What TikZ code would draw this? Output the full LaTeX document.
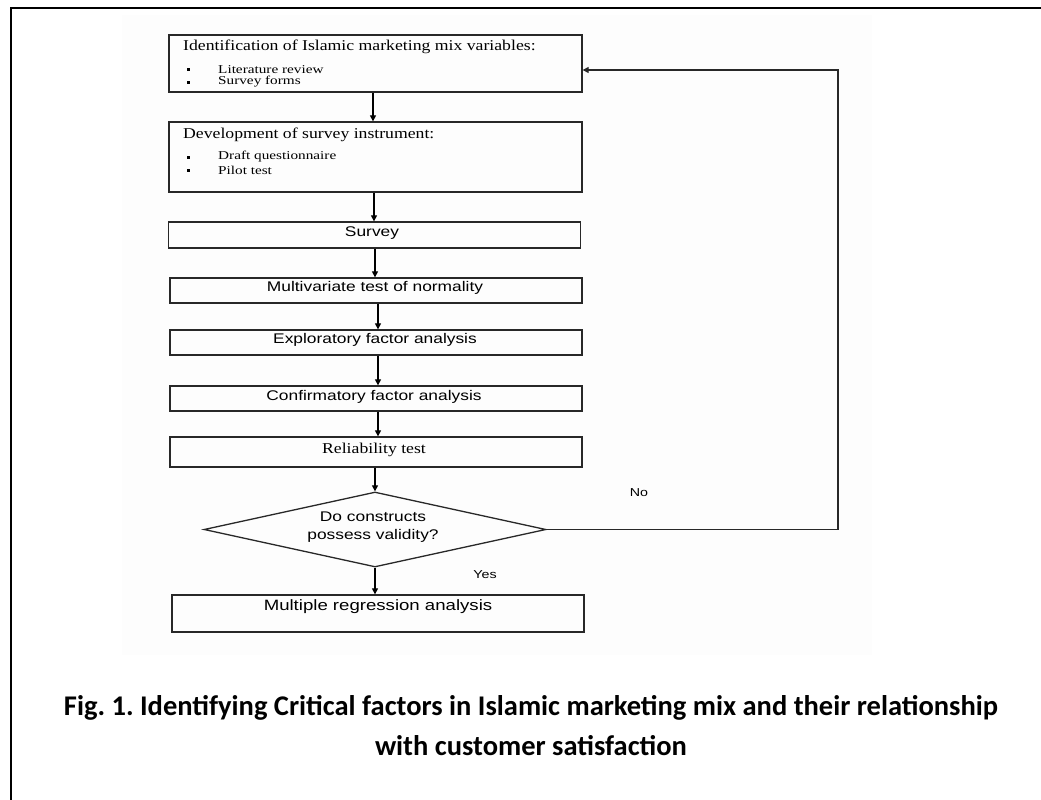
\documentclass[tikz,border=0pt]{standalone}
\usepackage{fontspec}
\setmainfont{Liberation Serif}
\newfontfamily\arialw{Liberation Sans}[FakeStretch=1.24]
\newfontfamily\timesw{Liberation Serif}[FakeStretch=1.18]
\newfontfamily\timesi{Liberation Serif}[FakeStretch=1.27]
\newfontfamily\calibrif{Carlito}
\usetikzlibrary{shapes.geometric,arrows.meta}
\definecolor{pastebg}{RGB}{253,253,253}
\definecolor{boxline}{RGB}{40,40,40}
\tikzset{
  box/.style={draw=boxline, line width=1.3pt, rectangle, inner sep=0pt},
  arr/.style={draw=black, line width=1.2pt, -{Triangle[length=6pt,width=6pt]}},
  link/.style={draw=boxline, line width=1.2pt},
  sanslbl/.style={font=\arialw\fontsize{14}{17}\selectfont, inner sep=0pt},
  seriflbl/.style={font=\timesw\fontsize{15}{17}\selectfont, inner sep=0pt},
  itemlbl/.style={font=\timesi\fontsize{12}{13}\selectfont, inner sep=0pt, anchor=west},
  smalllbl/.style={font=\arialw\fontsize{11.5}{13}\selectfont, inner sep=0pt},
  bullet/.style={fill=black, minimum size=3pt, inner sep=0pt, rectangle},
  caption/.style={font=\calibrif\bfseries\fontsize{28.5}{34}\selectfont, inner sep=0pt, anchor=base},
}
\begin{document}
\frenchspacing
\begin{tikzpicture}[x=1pt,y=-1pt]
\useasboundingbox (0,0) rectangle (1041,800);
\fill[white] (0,0) rectangle (1041,800);
\fill[pastebg] (122,15) rectangle (872,655);
% outer frame (left and top only visible)
\draw[line width=2pt] (11,800) -- (11,8.3) -- (1041,8.3);

% boxes
\node[box, minimum width=413pt, minimum height=57pt] (b1) at (375.5,63.5) {};
\node[box, minimum width=413pt, minimum height=70pt] (b2) at (375.5,157) {};
\node[box, minimum width=412pt, minimum height=26pt] (b3) at (374.5,235) {};
\node[box, minimum width=412pt, minimum height=25pt] (b4) at (376,290.5) {};
\node[box, minimum width=412pt, minimum height=25pt] (b5) at (376,342.5) {};
\node[box, minimum width=412pt, minimum height=25pt] (b6) at (376,398.5) {};
\node[box, minimum width=412pt, minimum height=30pt] (b7) at (376,452) {};
\node[draw=boxline, line width=1.3pt, diamond, minimum width=342pt, minimum height=75pt, inner sep=0pt] (d) at (375,529.5) {};
\node[box, minimum width=412pt, minimum height=37pt] (b8) at (378,613.5) {};

% texts
\node[seriflbl, anchor=west] (t1) at (183,47) {Identification of Islamic marketing mix variables:};
\node[bullet] (t1a) at (188,70) {};
\node[bullet] (t1b) at (188,82) {};
\node[itemlbl] (t1c) at (218,70) {Literature review};
\node[itemlbl] (t1d) at (218,82) {Survey forms};
\node[seriflbl, anchor=west] (t2) at (183,135) {Development of survey instrument:};
\node[bullet] (t2a) at (188,157) {};
\node[bullet] (t2b) at (188,170) {};
\node[itemlbl] (t2c) at (218,157) {Draft questionnaire};
\node[itemlbl] (t2d) at (218,170) {Pilot test};
\node[sanslbl] (t3) at (372,233) {Survey};
\node[sanslbl] (t4) at (375,288) {Multivariate test of normality};
\node[sanslbl] (t5) at (375,340) {Exploratory factor analysis};
\node[sanslbl] (t6) at (374,397) {Confirmatory factor analysis};
\node[seriflbl] (t7) at (374,450) {Reliability test};
\node[sanslbl, align=center] (t8) at (373,527.5) {Do constructs\\[1pt]possess validity?};
\node[sanslbl, font=\arialw\fontsize{15}{17}\selectfont] (t9) at (378,607) {Multiple regression analysis};
\node[smalllbl] (no) at (639,493) {No};
\node[smalllbl] (yes) at (485,575) {Yes};

% connectors
\draw[arr] (b1.south -| 373,0) -- (b2.north -| 373,0);
\draw[arr] (b2.south -| 374,0) -- (b3.north -| 374,0);
\draw[arr] (b3.south -| 375,0) -- (b4.north -| 375,0);
\draw[arr] (b4.south -| 378,0) -- (b5.north -| 378,0);
\draw[arr] (b5.south -| 378,0) -- (b6.north -| 378,0);
\draw[arr] (b6.south -| 378,0) -- (b7.north -| 378,0);
\draw[arr] (b7.south -| d.north) -- (d.north);
\draw[arr] (d.south) -- (b8.north -| d.south);
\coordinate (loopA) at (838,529.5);
\coordinate (loopB) at (838,70);
\draw[link, -{Triangle[length=6pt,width=6pt]}] (d.east) -- (loopA) -- (loopB) -- (b1.east |- loopB);

% caption
\node[caption] (cap1) at (531,715) {Fig. 1. Identifying Critical factors in Islamic marketing mix and their relationship};
\node[caption] (cap2) at (531,755) {with customer satisfaction};
\end{tikzpicture}
\end{document}
